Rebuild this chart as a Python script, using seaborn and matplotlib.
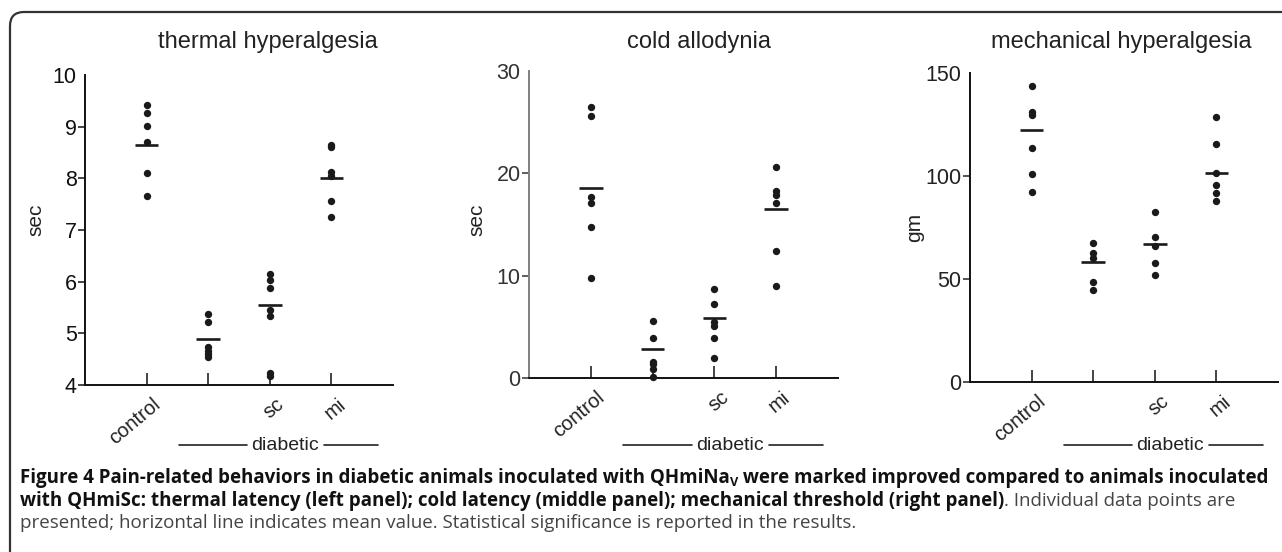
import numpy as np
import pandas as pd
import matplotlib
matplotlib.use("Agg")
import matplotlib.pyplot as plt
import seaborn as sns
from matplotlib import font_manager
from matplotlib.patches import FancyBboxPatch
from matplotlib.transforms import blended_transform_factory, ScaledTranslation, IdentityTransform

# groups on the x axis (second group is untreated diabetic, no label)
groups = ["control", "diabetic", "sc", "mi"]
tick_labels = ["control", "", "sc", "mi"]

# thermal hyperalgesia (sec)
thermal_control = [9.42, 9.26, 9.02, 8.71, 8.10, 7.65]
thermal_diabetic = [5.37, 5.21, 4.74, 4.66, 4.60, 4.54]
thermal_sc = [6.15, 6.04, 5.87, 5.46, 5.33, 4.23, 4.18]
thermal_mi = [8.64, 8.60, 8.12, 8.04, 7.56, 7.26]
thermal_means = [8.65, 4.89, 5.55, 8.01]

# cold allodynia (sec)
cold_control = [26.5, 25.6, 17.7, 17.1, 14.8, 9.8]
cold_diabetic = [5.6, 3.9, 1.6, 1.4, 0.9, 0.05]
cold_sc = [8.7, 7.2, 5.5, 5.1, 3.9, 2.0]
cold_mi = [20.6, 18.3, 17.9, 17.1, 12.4, 9.0]
cold_means = [18.6, 2.85, 5.85, 16.55]

# mechanical hyperalgesia (gm)
mech_control = [143.8, 131.0, 129.7, 113.8, 100.9, 92.1]
mech_diabetic = [67.3, 62.4, 60.0, 48.6, 44.6]
mech_sc = [82.4, 70.5, 66.0, 57.9, 51.9]
mech_mi = [128.6, 115.6, 101.3, 95.7, 91.6, 87.8]
mech_means = [122.4, 58.2, 66.8, 101.3]

sns.set_theme(style="ticks")
plt.rcParams['font.family'] = ['Liberation Sans', 'DejaVu Sans']

W, H = 1282, 552
fig = plt.figure(figsize=(W / 100, H / 100), dpi=100)


def px_rect(l, t, r, b):
    return [l / W, 1 - b / H, (r - l) / W, (b - t) / H]


def long_df(*series):
    rows = []
    for g, vals in zip(groups, series):
        for v in vals:
            rows.append((g, v))
    return pd.DataFrame(rows, columns=["group", "value"])


panels = [
    dict(title="thermal hyperalgesia", ylabel="sec",
         df=long_df(thermal_control, thermal_diabetic, thermal_sc, thermal_mi),
         means=thermal_means, ylim=(4, 10), yticks=[4, 5, 6, 7, 8, 9, 10],
         rect=px_rect(85, 75, 393, 385), title_xy=(268, 42), ylabel_xy=(36, 220),
         spine="#111111", tickcol="#111111"),
    dict(title="cold allodynia", ylabel="sec",
         df=long_df(cold_control, cold_diabetic, cold_sc, cold_mi),
         means=cold_means, ylim=(0, 30), yticks=[0, 10, 20, 30],
         rect=px_rect(529, 71, 838, 378), title_xy=(699, 42), ylabel_xy=(477, 220),
         spine="#808080", tickcol="#333333"),
    dict(title="mechanical hyperalgesia", ylabel="gm",
         df=long_df(mech_control, mech_diabetic, mech_sc, mech_mi),
         means=mech_means, ylim=(0, 150), yticks=[0, 50, 100, 150],
         rect=px_rect(970, 73, 1278, 382), title_xy=(1121, 42), ylabel_xy=(915, 227),
         spine="#111111", tickcol="#222222"),
]

dot = "#1a1a1a"
for p in panels:
    ax = fig.add_axes(p["rect"])
    sns.stripplot(data=p["df"], x="group", y="value", order=groups, jitter=False,
                  color=dot, size=5.3, linewidth=0, ax=ax, clip_on=False, zorder=3)
    pos = np.arange(len(groups))
    ax.hlines(p["means"], pos - 0.19, pos + 0.19, color=dot, lw=1.9, zorder=4)

    ax.set_xlim(-1, 4)
    ax.set_ylim(*p["ylim"])
    ax.set_yticks(p["yticks"])
    ax.set_xticks(pos)
    ax.set_xticklabels(tick_labels)
    ax.set_xlabel("")
    ax.set_ylabel("")
    ax.set_facecolor("none")

    sns.despine(ax=ax)
    ax.spines["left"].set_color(p["spine"])
    ax.spines["left"].set_linewidth(1.4)
    ax.spines["bottom"].set_color("#111111")
    ax.spines["bottom"].set_linewidth(1.4)

    ax.tick_params(axis="y", direction="out", length=5, width=1.1, color=p["tickcol"],
                   labelsize=15.5, labelcolor=p["tickcol"], pad=1)
    ax.yaxis.get_major_ticks()[-1].tick1line.set_visible(False)
    ax.set_yticks([p["ylim"][1]], minor=True)
    ax.tick_params(axis="y", which="minor", direction="in", length=8, width=1.1,
                   color=p["tickcol"])
    ax.tick_params(axis="x", direction="in", length=9, width=1.1, color="#111111",
                   labelsize=14.5, labelcolor="#222222", pad=7)
    for lab in ax.get_xticklabels():
        lab.set_rotation(40)
        lab.set_ha("right")
        lab.set_va("top")
        lab.set_rotation_mode("anchor")
        lab.set_transform(lab.get_transform() + ScaledTranslation(4 / 72, 0, fig.dpi_scale_trans))

    # diabetic bracket label
    tr = blended_transform_factory(ax.transData, fig.transFigure)
    yb = 1 - 445 / H
    ax.text(2.25, yb, "diabetic", transform=tr, ha="center", va="center",
            fontsize=14, color="#222222", clip_on=False)
    for x0, x1 in [(0.52, 1.63), (2.88, 3.75)]:
        ax.plot([x0, x1], [yb, yb], transform=tr, color="#222222", lw=1.2, clip_on=False)

    fig.text(p["title_xy"][0] / W, 1 - p["title_xy"][1] / H, p["title"], ha="center",
             va="center", fontsize=17, color="#222222")
    fig.text(p["ylabel_xy"][0] / W, 1 - p["ylabel_xy"][1] / H, p["ylabel"], ha="center",
             va="center", rotation=90, fontsize=15, color="#222222")

# rounded frame (cropped on right and bottom)
fig.patches.append(FancyBboxPatch((10, -30), 1400, H - 12 + 30,
                                  boxstyle="round,pad=0,rounding_size=14",
                                  transform=IdentityTransform(), fill=False,
                                  ec="#333333", lw=1.6))

# caption: prefer a narrow face, like the journal's condensed caption font
names = {f.name for f in font_manager.fontManager.ttflist}
cap_font = ["Liberation Sans Narrow", "DejaVu Sans"] if "Liberation Sans Narrow" in names \
    else ["Open Sans", "DejaVu Sans"]

renderer = fig.canvas.get_renderer()
line1 = [("Figure 4 Pain-related behaviors in diabetic animals inoculated with QHmiNa", "bold", 1.0, 0),
         ("V", "bold", 0.68, -3),
         (" were marked improved compared to animals inoculated", "bold", 1.0, 0)]
line2 = [("with QHmiSc: thermal latency (left panel); cold latency (middle panel); mechanical threshold (right panel)", "bold", 1.0, 0),
         (". Individual data points are", "normal", 1.0, 0)]
line3 = [("presented; horizontal line indicates mean value. Statistical significance is reported in the results.", "normal", 1.0, 0)]


def put_line(pieces, x_px, y_px, size, draw=True):
    x = x_px
    made = []
    for s, w, scale, dy in pieces:
        col = "#111111" if w == "bold" else "#444444"
        t = fig.text(x / W, (H - y_px + dy) / H, s, fontsize=size * scale, fontweight=w,
                     family=cap_font, color=col, va="baseline", ha="left")
        bb = t.get_window_extent(renderer)
        x = bb.x1
        made.append(t)
    if not draw:
        for t in made:
            t.remove()
    return x - x_px


# size caption so the first line spans the frame like the original
w10 = put_line(line1, 20, 481, 10, draw=False)
cap_size = min(10 * 1253 / w10, 13.5)
put_line(line1, 20, 483, cap_size)
put_line(line2, 20, 506, cap_size)
put_line(line3, 20, 528, cap_size)

fig.savefig("out.png", dpi=100)
